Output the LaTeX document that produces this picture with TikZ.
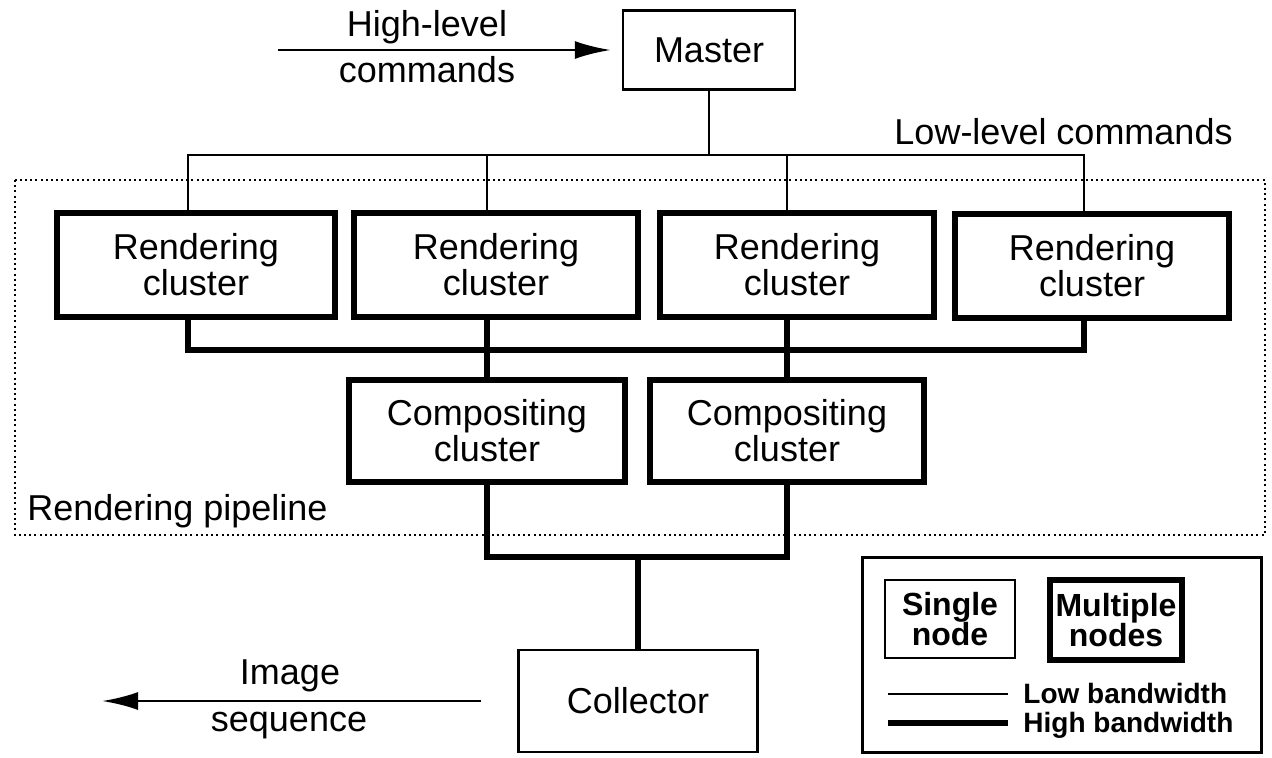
\documentclass[tikz,border=0pt]{standalone}
\usepackage{fontspec}
\setmainfont{Liberation Sans}
\usetikzlibrary{arrows.meta}

\tikzset{
  singlebox/.style={draw, line width=1.2pt, rectangle, align=center, inner sep=0pt, font=\fontsize{18}{18}\selectfont},
  multibox/.style={draw, line width=3pt, rectangle, align=center, inner sep=0pt, font=\fontsize{18}{18}\selectfont},
  keybox/.style={align=center, inner sep=0pt, font=\fontsize{16}{15}\selectfont\bfseries},
  lbl/.style={inner sep=0pt, font=\fontsize{18}{18}\selectfont},
  keylbl/.style={inner sep=0pt, anchor=base west, font=\fontsize{14}{14}\selectfont\bfseries},
  lowbw/.style={line width=1.2pt},
  highbw/.style={line width=3.2pt},
  flow/.style={-{Latex[length=18pt,width=9pt]}, line width=1.4pt},
  pipeframe/.style={line width=1pt, dash pattern=on 1pt off 1.6pt},
}

\begin{document}
\begin{tikzpicture}[x=0.5pt,y=-0.5pt]
  \useasboundingbox (0,0) rectangle (1272,757);

  % rendering pipeline frame
  \draw[pipeframe] (15,180) rectangle (1265,535);
  \node[lbl, anchor=base west] (pipe) at (27,520) {Rendering pipeline};

  % master and commands
  \node[singlebox, minimum width=86pt, minimum height=39.5pt] (master) at (709,50) {Master};
  \coordinate (hlin) at (278,50);
  \draw[flow, shorten >=5.5pt] (hlin) -- (master.west);
  \node[lbl, anchor=base] (hltop) at (427,36) {High-level};
  \node[lbl, anchor=base] (hlbot) at (427,82) {commands};
  \node[lbl, anchor=base east] (llcmd) at (1233,144) {Low-level commands};

  % rendering clusters
  \node[multibox, minimum width=139pt, minimum height=52pt] (rend1) at (196,265) {Rendering\\cluster};
  \node[multibox, minimum width=142pt, minimum height=52pt] (rend2) at (496,265) {Rendering\\cluster};
  \node[multibox, minimum width=137pt, minimum height=52pt] (rend3) at (797,265) {Rendering\\cluster};
  \node[multibox, minimum width=137pt, minimum height=52pt] (rend4) at (1092,266) {Rendering\\cluster};

  % compositing clusters
  \node[multibox, minimum width=138pt, minimum height=51pt] (comp1) at (487,431) {Compositing\\cluster};
  \node[multibox, minimum width=137pt, minimum height=51pt] (comp2) at (787,431) {Compositing\\cluster};

  % collector and output
  \node[singlebox, minimum width=119.5pt, minimum height=51pt] (coll) at (638,701) {Collector};
  \coordinate (imgout) at (102,701);
  \draw[flow, shorten <=18pt] (coll.west) -- (imgout);
  \node[lbl, anchor=base] (imgtop) at (290,684) {Image};
  \node[lbl, anchor=base] (imgbot) at (289,731) {sequence};

  % low bandwidth bus
  \coordinate (lbus) at (640,155);
  \draw[lowbw] (master.south) -- (master.south |- lbus);
  \draw[lowbw] ([xshift=-4pt]rend1.north) |- (lbus) -| ([xshift=-4pt]rend4.north);
  \draw[lowbw] (comp1.north |- rend2.north) -- (comp1.north |- lbus);
  \draw[lowbw] (comp2.north |- rend3.north) -- (comp2.north |- lbus);

  % high bandwidth bus
  \coordinate (hbus) at (640,350);
  \draw[highbw] ([xshift=-4pt]rend1.south) |- (hbus) -| ([xshift=-4pt]rend4.south);
  \draw[highbw] (comp1.north |- rend2.south) -- (comp1.north);
  \draw[highbw] (comp2.north |- rend3.south) -- (comp2.north);
  \coordinate (cbus) at (638,557);
  \draw[highbw] (comp1.south) |- (cbus) -| (comp2.south);
  \draw[highbw] (cbus) -- (coll.north);

  % legend
  \node[draw, line width=1.2pt, minimum width=199.5pt, minimum height=97.5pt] (legend) at (1062,655) {};
  \node[keybox, draw, line width=1.2pt, minimum width=65pt, minimum height=39pt] (single) at (950,619) {Single\\node};
  \node[keybox, draw, line width=3pt, minimum width=66pt, minimum height=40pt] (multi) at (1116,620) {Multiple\\nodes};
  \node[keylbl] (lowtxt) at (1023,703) {Low bandwidth};
  \node[keylbl] (hightxt) at (1023,732) {High bandwidth};
  \draw[lowbw] ([xshift=-7.5pt,yshift=2pt]lowtxt.mid west) -- ++(-120,0);
  \draw[highbw] ([xshift=-7.5pt,yshift=2pt]hightxt.mid west) -- ++(-120,0);
\end{tikzpicture}
\end{document}
